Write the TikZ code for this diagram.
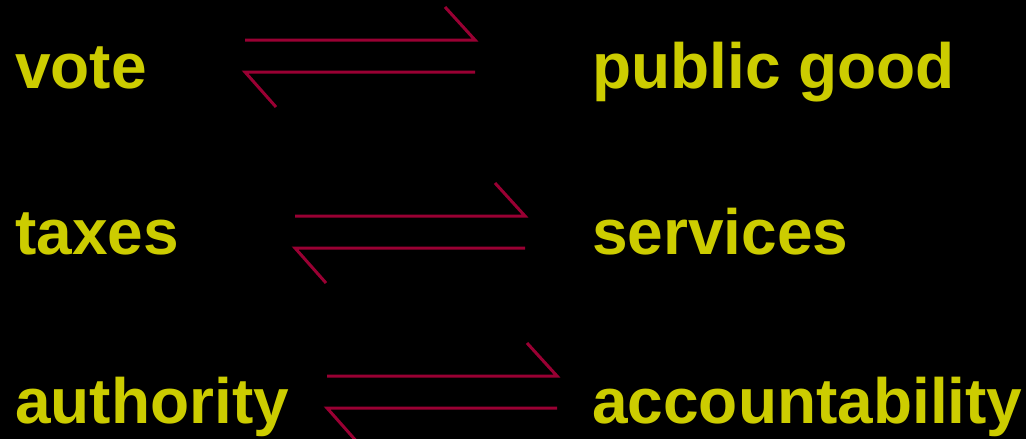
\documentclass[tikz,border=0pt]{standalone}
\usepackage{fontspec}
\setsansfont{Liberation Sans}
\usepackage{tikz}
\usepackage{xcolor}
\definecolor{wordyellow}{HTML}{CCCC00}
\definecolor{linkred}{HTML}{990033}
\tikzset{
    word/.style = {text=wordyellow, font=\sffamily\bfseries\fontsize{64pt}{64pt}\selectfont, inner sep=0pt, anchor=base west},
    exchange/.style = {draw=linkred, line width=3pt},
}
\begin{document}
\begin{tikzpicture}[x=1pt, y=-1pt]
\clip (0,0) rectangle (1026,439);
\fill[black] (0,0) rectangle (1026,439);
\node[word] (vote) at (15,88) {vote};
\node[word] (good) at (592,88) {public good};
\node[word] (taxes) at (15,254) {taxes};
\node[word] (services) at (592,254) {services};
\node[word] (authority) at (15,423) {authority};
\node[word] (account) at (592,423) {accountability};
\foreach \name/\x/\y in {vote/245/40, taxes/295/216, authority/327/376} {
    \coordinate (\name-a) at (\x,\y);
    \coordinate (\name-b) at (\x+230,\y);
    \coordinate (\name-c) at (\x,\y+32);
    \coordinate (\name-d) at (\x+230,\y+32);
    \draw[exchange] (\name-a) -- (\name-b) -- ++(-30,-33);
    \draw[exchange] (\name-d) -- (\name-c) -- ++(31,35);
}
\end{tikzpicture}
\end{document}
